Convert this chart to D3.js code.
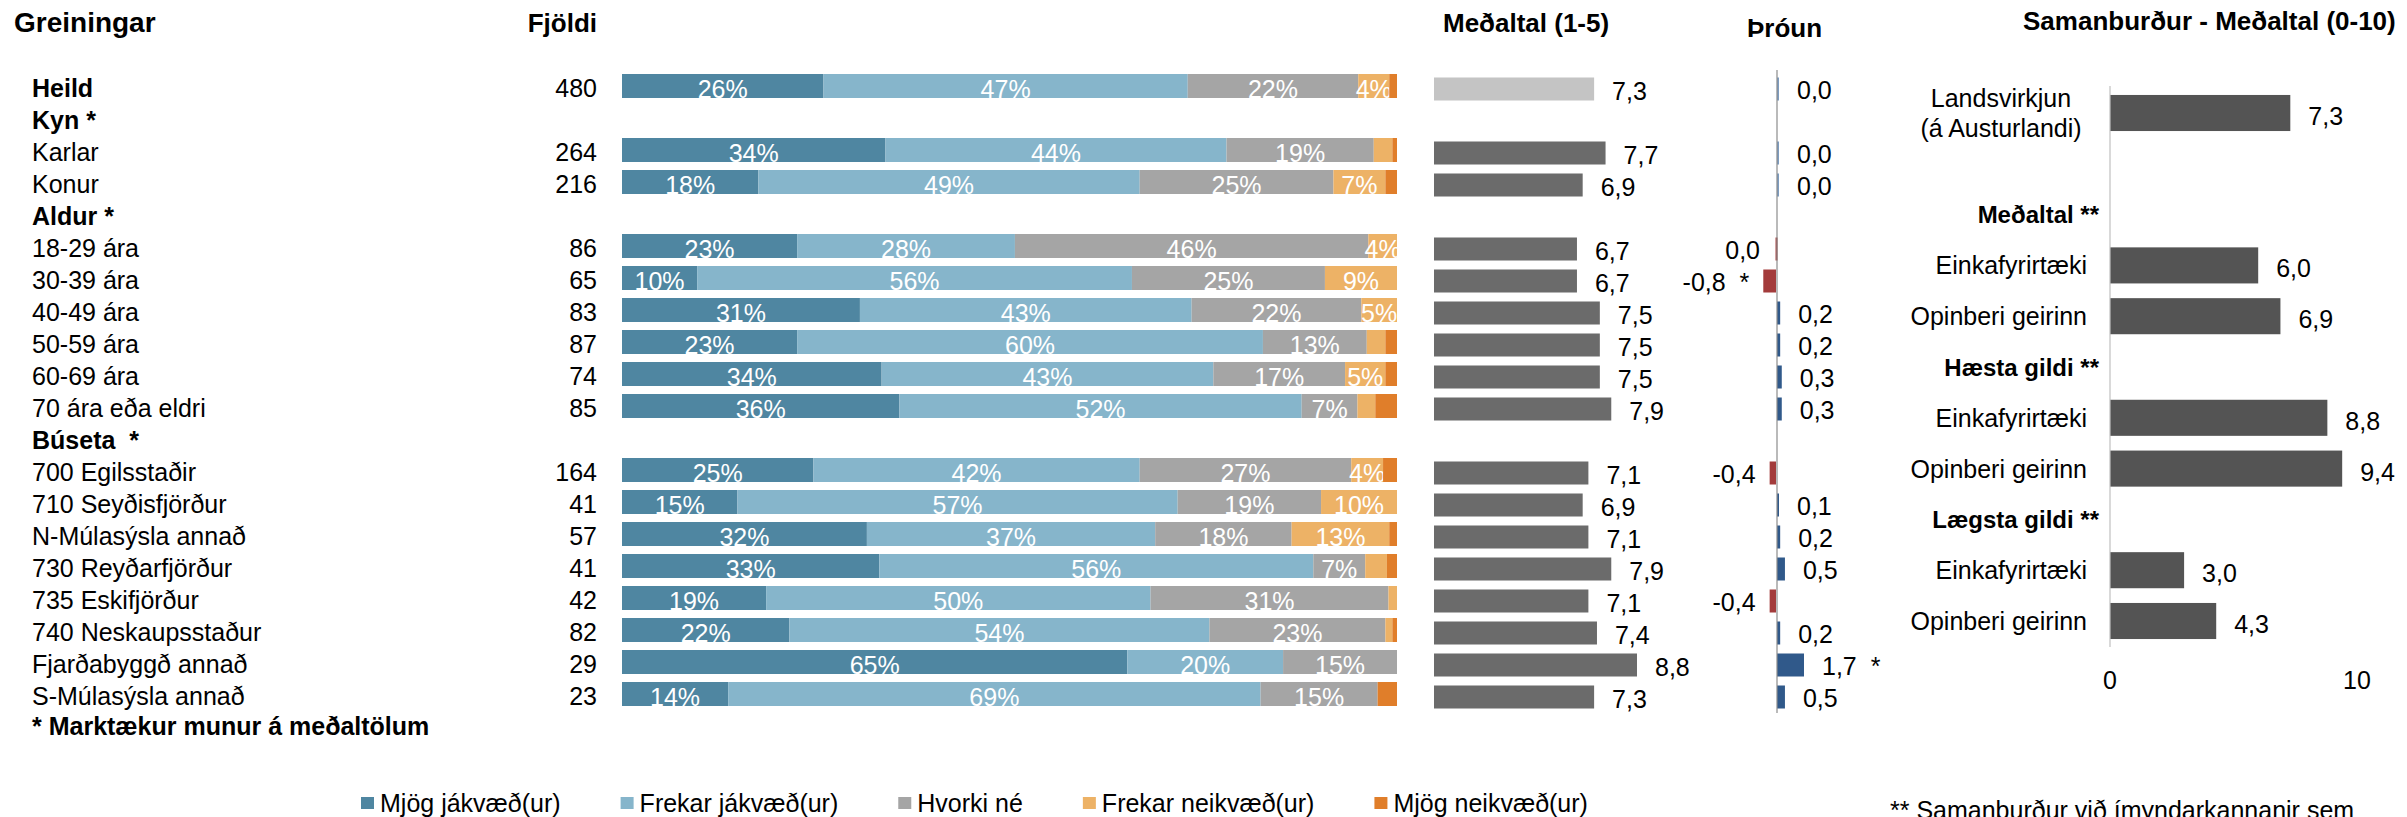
<!DOCTYPE html>
<meta charset="utf-8">
<style>
  body { margin: 0; background: #fff; }
  text { font-family: "Liberation Sans", Arial, sans-serif; }
</style>
<div id="chart"></div>
<script src="https://cdn.jsdelivr.net/npm/d3@7"></script>
<script>
// Rows of the breakdown table (null = group header without data)
var rowLabels = ["Heild", "Kyn *", "Karlar", "Konur", "Aldur *", "18-29 ára", "30-39 ára", "40-49 ára",
    "50-59 ára", "60-69 ára", "70 ára eða eldri", "Búseta  *", "700 Egilsstaðir", "710 Seyðisfjörður",
    "N-Múlasýsla annað", "730 Reyðarfjörður", "735 Eskifjörður", "740 Neskaupsstaður",
    "Fjarðabyggð annað", "S-Múlasýsla annað"];
var boldRows = ["Heild", "Kyn *", "Aldur *", "Búseta  *"];
var counts = [480, null, 264, 216, null, 86, 65, 83, 87, 74, 85, null, 164, 41, 57, 41, 42, 82, 29, 23];

var answerKeys = ["Mjög jákvæð(ur)", "Frekar jákvæð(ur)", "Hvorki né", "Frekar neikvæð(ur)", "Mjög neikvæð(ur)"];
var veryPositive   = [26, null, 34, 17.6, null, 22.6, 9.7, 30.7, 22.6, 33.5, 35.8, null, 24.7, 14.9, 31.6, 33.2, 18.6, 21.6, 65.2, 13.7];
var ratherPositive = [47, null, 44, 49.2, null, 28.1, 56.1, 42.8, 60.1, 42.8, 51.9, null, 42.1, 56.8, 37.2, 56, 49.6, 54.2, 20.1, 68.7];
var neither        = [22, null, 19, 25, null, 45.6, 24.9, 21.9, 13.4, 17, 7.2, null, 27.3, 18.5, 17.6, 6.7, 30.7, 22.7, 14.7, 15.1];
var ratherNegative = [4, null, 2.4, 6.7, null, 3.7, 9.3, 4.6, 2.4, 5.2, 2.3, null, 4.1, 9.8, 12.6, 2.8, 1.1, 0.9, 0, 0];
var veryNegative   = [1, null, 0.6, 1.5, null, 0, 0, 0, 1.5, 1.5, 2.8, null, 1.8, 0, 1.0, 1.3, 0, 0.6, 0, 2.5];

var means   = [7.3, null, 7.7, 6.9, null, 6.7, 6.7, 7.5, 7.5, 7.5, 7.9, null, 7.1, 6.9, 7.1, 7.9, 7.1, 7.4, 8.8, 7.3];
var changes = [0.02, null, 0.02, 0.02, null, -0.03, -0.8, 0.2, 0.2, 0.3, 0.3, null, -0.4, 0.1, 0.2, 0.5, -0.4, 0.2, 1.7, 0.5];
var changeSig = [false, false, false, false, false, false, true, false, false, false, false, false,
    false, false, false, false, false, false, true, false];

// Comparison panel
var compLabels = ["Landsvirkjun|(á Austurlandi)", "", "Meðaltal **", "Einkafyrirtæki", "Opinberi geirinn",
    "Hæsta gildi **", "Einkafyrirtæki", "Opinberi geirinn", "Lægsta gildi **", "Einkafyrirtæki", "Opinberi geirinn"];
var compValues = [7.3, null, null, 6.0, 6.9, null, 8.8, 9.4, null, 3.0, 4.3];
var compTicks = [0, 10];

var colors = ["#4f86a1", "#86b5cb", "#a5a5a5", "#edb266", "#e07e2a"];
var fmt = function(v) {
    var s = d3.format(".1f")(v).replace(".", ",").replace("\u2212", "-");
    return s === "-0,0" ? "0,0" : s;
};

var W = 2407, H = 817;
var svg = d3.select("#chart").append("svg")
    .attr("width", W)
    .attr("height", H);

var idx = d3.range(rowLabels.length);
var y = d3.scaleBand().domain(idx).range([71.5, 711.5]).paddingInner(0.25).paddingOuter(0.125);

// Headers
svg.append("text").attr("x", 14).attr("y", 32).attr("font-size", 28).attr("font-weight", "bold").text("Greiningar");
svg.append("text").attr("x", 597).attr("y", 32).attr("font-size", 26).attr("font-weight", "bold")
    .attr("text-anchor", "end").text("Fjöldi");
svg.append("text").attr("x", 1443).attr("y", 32).attr("font-size", 26).attr("font-weight", "bold").text("Meðaltal (1-5)");
svg.append("text").attr("x", 1747).attr("y", 37).attr("font-size", 26).attr("font-weight", "bold").text("Þróun");

// Row labels and counts
svg.selectAll(".rowlabel")
    .data(idx)
    .enter().append("text")
        .attr("class", "rowlabel")
        .attr("x", 32)
        .attr("y", function(i) { return y(i) + y.bandwidth() / 2; })
        .attr("dy", "0.36em")
        .attr("font-size", 25)
        .attr("font-weight", function(i) { return boldRows.indexOf(rowLabels[i]) >= 0 ? "bold" : "normal"; })
        .style("white-space", "pre")
        .text(function(i) { return rowLabels[i]; });

svg.selectAll(".count")
    .data(idx.filter(function(i) { return counts[i] != null; }))
    .enter().append("text")
        .attr("x", 597)
        .attr("y", function(i) { return y(i) + y.bandwidth() / 2; })
        .attr("dy", "0.36em")
        .attr("font-size", 25)
        .attr("text-anchor", "end")
        .text(function(i) { return counts[i]; });

svg.append("text").attr("x", 32).attr("y", 726).attr("dy", "0.36em")
    .attr("font-size", 25).attr("font-weight", "bold").text("* Marktækur munur á meðaltölum");

// Stacked bars
var table = idx.filter(function(i) { return veryPositive[i] != null; }).map(function(i) {
    var o = { row: i };
    o[answerKeys[0]] = veryPositive[i];
    o[answerKeys[1]] = ratherPositive[i];
    o[answerKeys[2]] = neither[i];
    o[answerKeys[3]] = ratherNegative[i];
    o[answerKeys[4]] = veryNegative[i];
    return o;
});
var stacked = d3.stack().keys(answerKeys)(table);
var x = d3.scaleLinear().domain([0, 100]).range([622, 1397]);

var layers = svg.selectAll(".layer")
    .data(stacked)
    .enter().append("g")
        .attr("fill", function(d, k) { return colors[k]; });

layers.selectAll("rect")
    .data(function(d) { return d; })
    .enter().append("rect")
        .attr("x", function(d) { return x(d[0]); })
        .attr("width", function(d) { return x(d[1]) - x(d[0]); })
        .attr("y", function(d) { return y(d.data.row) - 1.5; })
        .attr("height", y.bandwidth());

layers.selectAll("text")
    .data(function(d) { return d.filter(function(s) { return s[1] - s[0] >= 3.5; }); })
    .enter().append("text")
        .attr("x", function(d) { return (x(d[0]) + x(d[1])) / 2; })
        .attr("y", function(d) { return y(d.data.row) + y.bandwidth() / 2; })
        .attr("dy", "0.4em")
        .attr("text-anchor", "middle")
        .attr("font-size", 25)
        .attr("fill", "#fff")
        .text(function(d) { return Math.round(d[1] - d[0]) + "%"; });

// Mean bars
var xm = d3.scaleLinear().domain([1.7, 8.8]).range([1434, 1637]);
var meanRows = idx.filter(function(i) { return means[i] != null; });
svg.selectAll(".mean")
    .data(meanRows)
    .enter().append("rect")
        .attr("x", xm(1.7))
        .attr("y", function(i) { return y(i) + 2; })
        .attr("width", function(i) { return xm(means[i]) - xm(1.7); })
        .attr("height", y.bandwidth() - 1)
        .attr("fill", function(i) { return i === 0 ? "#c4c4c4" : "#6b6b6b"; });
svg.selectAll(".meanlabel")
    .data(meanRows)
    .enter().append("text")
        .attr("x", function(i) { return xm(means[i]) + 18; })
        .attr("y", function(i) { return y(i) + y.bandwidth() / 2 + 3; })
        .attr("dy", "0.36em")
        .attr("font-size", 25)
        .text(function(i) { return fmt(means[i]); });

// Change bars
var xc = d3.scaleLinear().domain([0, 1.7]).range([1777, 1804]);
var changeRows = idx.filter(function(i) { return changes[i] != null; });
svg.selectAll(".change")
    .data(changeRows)
    .enter().append("rect")
        .attr("x", function(i) { return Math.min(xc(0), xc(changes[i])) - (changes[i] < 0 ? 1 : 0); })
        .attr("y", function(i) { return y(i) + 2; })
        .attr("width", function(i) { return Math.max(2, Math.abs(xc(changes[i]) - xc(0))); })
        .attr("height", y.bandwidth() - 1)
        .attr("fill", function(i) { return changes[i] < 0 ? "#a33b3b" : (Math.abs(changes[i]) < 0.05 ? "#7d9cc0" : "#30598a"); });
svg.append("line")
    .attr("x1", xc(0)).attr("x2", xc(0))
    .attr("y1", 70).attr("y2", 713)
    .attr("stroke", "#8c8c8c").attr("stroke-width", 1.2);
svg.selectAll(".changelabel")
    .data(changeRows)
    .enter().append("text")
        .attr("x", function(i) {
            var end = changes[i] < 0 ? Math.min(xc(changes[i]), xc(0) - 2) : Math.max(xc(changes[i]), xc(0) + 2);
            return changes[i] < 0 ? end - 15 : end + 18;
        })
        .attr("y", function(i) { return y(i) + y.bandwidth() / 2 + 2; })
        .attr("dy", "0.36em")
        .attr("font-size", 25)
        .attr("text-anchor", function(i) { return changes[i] < 0 ? "end" : "start"; })
        .style("white-space", "pre")
        .text(function(i) { return fmt(changes[i]) + (changeSig[i] ? "  *" : ""); });

// Comparison panel
svg.append("text").attr("x", 2023).attr("y", 30).attr("font-size", 26).attr("font-weight", "bold")
    .text("Samanburður - Meðaltal (0-10)");
var cIdx = d3.range(compLabels.length);
var yc = d3.scaleBand().domain(cIdx).range([87.6, 646.4]).paddingInner(0.29).paddingOuter(0.145);
var xr = d3.scaleLinear().domain([0, 10]).range([2110, 2357]);
var cMid = function(i) { return yc(i) + yc.bandwidth() / 2; };

svg.selectAll(".comp")
    .data(cIdx.filter(function(i) { return compValues[i] != null; }))
    .enter().append("rect")
        .attr("x", xr(0))
        .attr("y", function(i) { return yc(i); })
        .attr("width", function(i) { return xr(compValues[i]) - xr(0); })
        .attr("height", yc.bandwidth())
        .attr("fill", "#545454");
svg.selectAll(".complabel")
    .data(cIdx.filter(function(i) { return compValues[i] != null; }))
    .enter().append("text")
        .attr("x", function(i) { return xr(compValues[i]) + 18; })
        .attr("y", function(i) { return cMid(i) + 3; })
        .attr("dy", "0.36em")
        .attr("font-size", 25)
        .text(function(i) { return fmt(compValues[i]); });
svg.append("line")
    .attr("x1", xr(0)).attr("x2", xr(0))
    .attr("y1", 86).attr("y2", 647)
    .attr("stroke", "#c0c0c0").attr("stroke-width", 1.2);

cIdx.forEach(function(i) {
    var lab = compLabels[i];
    if (!lab) return;
    if (lab.indexOf("|") >= 0) {
        var parts = lab.split("|");
        parts.forEach(function(p, k) {
            svg.append("text")
                .attr("x", 2001).attr("y", cMid(i) + (k - 0.5) * 30)
                .attr("dy", "0.36em").attr("font-size", 25).attr("text-anchor", "middle")
                .text(p);
        });
    } else {
        var isHead = compValues[i] == null;
        svg.append("text")
            .attr("x", isHead ? 2099 : 2087)
            .attr("y", cMid(i))
            .attr("dy", "0.36em")
            .attr("font-size", isHead ? 24 : 25)
            .attr("font-weight", isHead ? "bold" : "normal")
            .attr("text-anchor", "end")
            .text(lab);
    }
});

svg.selectAll(".ctick")
    .data(compTicks)
    .enter().append("text")
        .attr("x", function(d) { return xr(d); })
        .attr("y", 680)
        .attr("dy", "0.36em")
        .attr("font-size", 25)
        .attr("text-anchor", "middle")
        .text(function(d) { return d; });

svg.append("text").attr("x", 1890).attr("y", 819).attr("font-size", 25)
    .text("** Samanburður við ímyndarkannanir sem");

// Legend
var lx = 361;
answerKeys.forEach(function(k, i) {
    svg.append("rect").attr("x", lx).attr("y", 797).attr("width", 13).attr("height", 12).attr("fill", colors[i]);
    var t = svg.append("text").attr("x", lx + 19).attr("y", 803).attr("dy", "0.36em")
        .attr("font-size", 25).text(k);
    lx += 19 + t.node().getComputedTextLength() + 60;
});
</script>
